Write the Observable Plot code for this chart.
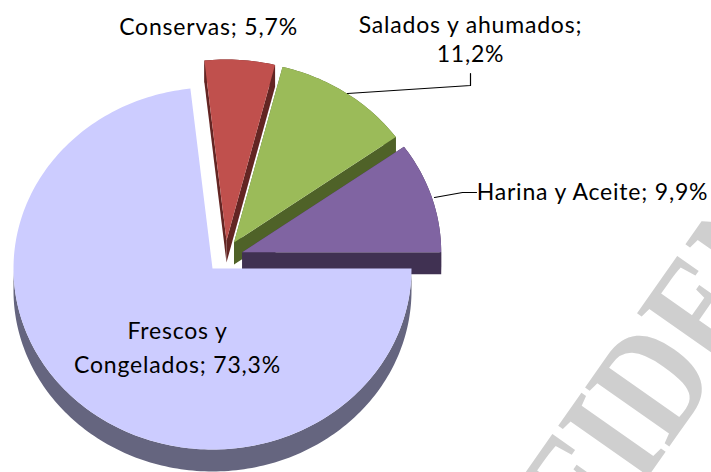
<!DOCTYPE html>
<html>
<head>
<meta charset="utf-8">
<script src="https://cdn.jsdelivr.net/npm/d3@7"></script>
<script src="https://cdn.jsdelivr.net/npm/@observablehq/plot@0.6"></script>
<style>html,body{margin:0;padding:0;background:#fff}svg{display:block}</style>
</head>
<body>
<div id="chart"></div>
<script>
const categories = ["Frescos y Congelados", "Conservas", "Salados y ahumados", "Harina y Aceite"];
const shares = [73.3, 5.7, 11.2, 9.9];
const topColors = ["#ccccff", "#c0504d", "#9bbb59", "#8064a2"];
const sideColors = ["#65657f", "#632523", "#4f6228", "#403152"];
const sliceCenters = [[212, 268], [226, 240], [233.5, 242], [241.7, 251.7]];
const labelLines = [
  {text: "Frescos y", x: 177, y: 331},
  {text: "Congelados; 73,3%", x: 177, y: 365},
  {text: "Conservas; 5,7%", x: 208, y: 27},
  {text: "Salados y ahumados;", x: 470, y: 25},
  {text: "11,2%", x: 470, y: 54},
  {text: "Harina y Aceite; 9,9%", x: 592, y: 192}
];
const leaders = [
  {id: "s", pts: [[347, 93], [470, 85], [470, 73]]},
  {id: "h", pts: [[434, 197], [462, 192], [476, 192]]}
];
const watermark = ["FIDEN"];
const rx = 199, ry = 181, depth = 22;

const total = d3.sum(shares);
const edges = d3.cumsum(shares).map(v => v / total * 2 * Math.PI);
const starts = [0, ...edges.slice(0, -1)];
const pt = (c, a, dy = 0) => [c[0] + rx * Math.cos(a), c[1] + ry * Math.sin(a) + dy];
const arc = (c, a0, a1, dy = 0) => {
  const n = Math.max(2, Math.ceil((a1 - a0) / 0.02));
  return d3.range(n + 1).map(i => pt(c, a0 + (a1 - a0) * i / n, dy));
};
const polys = [];
let pid = 0;
const add = (pts, color) => { const id = pid++; pts.forEach(p => polys.push({id, x: p[0], y: p[1], color})); };
const drawSlice = i => {
  const c = sliceCenters[i], a0 = starts[i], a1 = edges[i];
  const below = [c[0], c[1] + depth];
  if (i === 0) {
    add([...arc(c, a0, Math.PI), ...arc(c, a0, Math.PI, depth).reverse()], sideColors[i]);
  } else {
    add([c, pt(c, a0), pt(c, a0, depth), below], sideColors[i]);
    add([c, pt(c, a1), pt(c, a1, depth), below], sideColors[i]);
    add([...arc(c, a0, a1), ...arc(c, a0, a1, depth).reverse()], sideColors[i]);
  }
  add([c, ...arc(c, a0, a1)], topColors[i]);
};
[1, 2, 3, 0].forEach(drawSlice);
const leaderPts = leaders.flatMap(l => l.pts.map(p => ({id: l.id, x: p[0], y: p[1]})));

const plot = Plot.plot({
  width: 711, height: 472,
  margin: 0,
  x: {domain: [0, 711], range: [0, 711], axis: null},
  y: {domain: [0, 472], range: [0, 472], axis: null},
  color: {type: "identity"},
  marks: [
    Plot.text(watermark, {
      x: [554.4], y: [521.8], text: d => d, rotate: -55, textAnchor: "start",
      fontFamily: "Liberation Serif", fontWeight: "bold", fontSize: 157, fill: "#cfcfcf",
      render(index, scales, values, dims, ctx, next) {
        const g = next(index, scales, values, dims, ctx);
        g.querySelectorAll("text").forEach(t => t.setAttribute("transform", t.getAttribute("transform") + " scale(0.8,1)"));
        return g;
      }
    }),
    Plot.line(polys, {x: "x", y: "y", z: "id", fill: "color", stroke: "none", curve: "linear"}),
    Plot.line(leaderPts, {x: "x", y: "y", z: "id", stroke: "#000", strokeWidth: 1.2}),
    Plot.text(labelLines, {
      x: "x", y: "y", text: "text", fontFamily: "Lato", fontSize: 23, fill: "#000",
      render(index, scales, values, dims, ctx, next) {
        const g = next(index, scales, values, dims, ctx);
        g.setAttribute("letter-spacing", "0.8");
        return g;
      }
    })
  ]
});
document.getElementById("chart").append(plot);
</script>
</body>
</html>
